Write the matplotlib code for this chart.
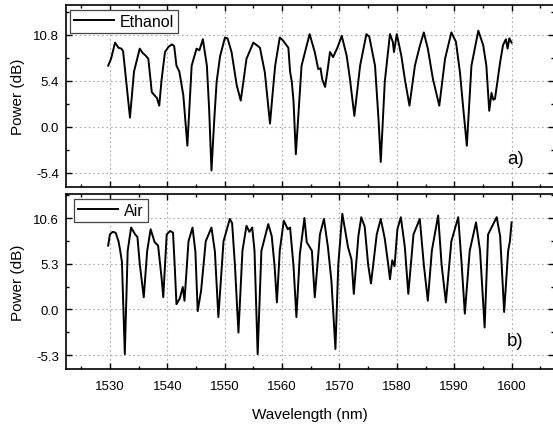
import matplotlib
matplotlib.use("Agg")
import matplotlib.pyplot as plt
from matplotlib.ticker import MultipleLocator, FixedLocator

plt.rcParams['font.family'] = ['Liberation Sans', 'DejaVu Sans']

# Ethanol spectrum (wavelength nm, power dB)
eth_wl = [1529.7, 1530.2, 1530.9, 1531.5, 1532.0, 1532.3, 1532.9, 1533.5, 1534.2, 1535.2,
          1535.7, 1536.2, 1536.7, 1537.3, 1537.8, 1538.2, 1538.6, 1539.0, 1539.6, 1540.2,
          1540.8, 1541.2, 1541.6, 1542.1, 1542.8, 1543.5, 1544.25, 1545.1, 1545.6, 1546.2,
          1546.9, 1547.3, 1547.7, 1548.2, 1548.6, 1549.2, 1550.05, 1550.5, 1551.2, 1552.1,
          1552.8, 1553.3, 1553.8, 1555.0, 1555.6, 1556.15, 1557.0, 1557.9, 1558.3, 1558.8,
          1559.6, 1560.1, 1561.1, 1561.4, 1561.7, 1562.0, 1562.4, 1563.4, 1564.8, 1565.7,
          1566.3, 1566.7, 1567.0, 1567.5, 1568.0, 1568.35, 1568.9, 1569.7, 1570.4, 1571.25,
          1571.8, 1572.6, 1573.6, 1574.7, 1575.2, 1576.2, 1576.8, 1577.2, 1577.9, 1578.8,
          1579.3, 1579.5, 1580.0, 1580.8, 1581.4, 1582.2, 1583.15, 1584.0, 1584.7, 1585.4,
          1586.3, 1587.4, 1588.4, 1589.5, 1590.3, 1591.0, 1591.6, 1592.2, 1593.0, 1594.2,
          1595.05, 1595.6, 1596.1, 1596.5, 1596.8, 1597.1, 1598.0, 1598.5, 1599.0, 1599.3,
          1599.6, 1600.0]
eth_pw = [7.2, 8.0, 9.9, 9.3, 9.2, 8.9, 5.0, 1.1, 6.5, 9.2,
          8.7, 8.4, 8.0, 4.1, 3.7, 3.4, 2.5, 5.5, 8.8, 9.4,
          9.7, 9.5, 7.2, 6.5, 3.7, -2.2, 7.2, 9.2, 9.0, 10.3,
          7.2, 2.0, -5.1, 1.0, 5.3, 8.3, 10.5, 10.4, 8.8, 4.9,
          3.1, 5.5, 8.0, 9.9, 9.6, 9.3, 6.4, 0.4, 3.5, 7.2,
          10.5, 10.2, 9.3, 6.5, 5.3, 3.0, -3.2, 7.2, 10.9, 8.8,
          6.8, 6.9, 5.6, 4.7, 7.0, 8.8, 8.2, 9.4, 10.7, 8.4,
          5.8, 1.3, 7.2, 10.9, 10.6, 7.2, 1.0, -4.1, 5.3, 10.9,
          10.0, 8.8, 10.9, 8.3, 5.6, 2.5, 7.2, 9.5, 11.1, 9.2,
          5.6, 2.5, 8.0, 11.1, 10.0, 6.4, 2.0, -2.2, 7.2, 11.3,
          9.6, 7.2, 1.9, 4.0, 3.2, 3.3, 7.6, 9.6, 10.3, 9.2,
          10.4, 9.9]

# Air spectrum (wavelength nm, power dB)
air_wl = [1529.7, 1530.0, 1530.5, 1531.0, 1531.5, 1531.8, 1532.1, 1532.6, 1533.1, 1533.7,
          1534.4, 1534.8, 1535.2, 1535.9, 1536.5, 1537.1, 1537.8, 1538.4, 1539.0, 1539.3,
          1539.9, 1540.5, 1541.0, 1541.3, 1541.6, 1542.2, 1542.7, 1543.0, 1543.7, 1544.4,
          1544.9, 1545.3, 1545.9, 1546.7, 1547.7, 1548.3, 1548.9, 1549.8, 1550.9, 1551.3,
          1551.8, 1552.4, 1553.1, 1553.8, 1554.3, 1554.8, 1555.2, 1555.75, 1556.4, 1557.6,
          1558.2, 1558.7, 1559.1, 1559.6, 1560.3, 1561.0, 1561.4, 1562.0, 1562.5, 1563.1,
          1563.9, 1564.3, 1565.2, 1565.7, 1566.6, 1567.3, 1568.0, 1568.6, 1569.3, 1569.8,
          1570.5, 1571.5, 1572.1, 1572.5, 1573.3, 1573.8, 1574.4, 1575.0, 1575.5, 1576.5,
          1577.2, 1577.9, 1578.5, 1578.8, 1579.2, 1579.6, 1580.1, 1580.7, 1581.4, 1582.0,
          1582.9, 1584.0, 1584.7, 1585.4, 1586.1, 1587.2, 1587.8, 1588.55, 1589.5, 1590.7,
          1591.3, 1591.85, 1592.7, 1593.8, 1594.5, 1595.3, 1595.9, 1597.4, 1598.0, 1598.7,
          1599.4, 1599.7, 1600.0]
air_pw = [7.4, 8.7, 9.0, 8.9, 7.9, 6.8, 5.5, -5.2, 6.8, 9.5,
          8.7, 8.4, 5.3, 1.4, 6.8, 9.3, 7.8, 7.4, 3.7, 1.4,
          8.7, 9.1, 8.9, 5.0, 0.6, 1.3, 2.6, 1.0, 7.9, 9.5,
          6.7, -0.2, 2.2, 7.9, 9.5, 6.7, -0.9, 7.9, 10.5, 10.0,
          5.0, -2.7, 6.8, 9.7, 9.0, 9.5, 6.8, -5.2, 6.8, 9.9,
          8.5, 5.0, 0.8, 6.8, 10.3, 9.3, 9.5, 5.0, -0.9, 6.4,
          10.6, 7.8, 6.8, 1.4, 8.7, 10.5, 7.2, 3.3, -4.6, 5.2,
          11.1, 7.2, 5.8, 1.8, 8.5, 10.7, 9.6, 5.2, 3.0, 8.7,
          10.5, 8.2, 5.2, 3.5, 5.7, 5.0, 9.3, 10.7, 7.2, 1.8,
          8.7, 10.5, 5.2, 1.0, 6.8, 10.9, 5.2, 0.8, 7.9, 10.7,
          5.2, -0.5, 6.8, 10.1, 6.8, -2.1, 8.7, 10.7, 8.5, -0.3,
          6.8, 7.9, 10.1]

x_ticks = [1530, 1540, 1550, 1560, 1570, 1580, 1590, 1600]
top_yticks = [-5.4, 0.0, 5.4, 10.8]
bot_yticks = [-5.3, 0.0, 5.3, 10.6]

W, H = 553, 427
fig = plt.figure(figsize=(W / 100, H / 100), dpi=100)

def px_axes(x0, y0, x1, y1):
    return fig.add_axes([x0 / W, 1 - y1 / H, (x1 - x0) / W, (y1 - y0) / H])

ax1 = px_axes(65.7, 6, 553.5, 188.3)
ax2 = px_axes(65.7, 195, 553.5, 370)

def style(ax, yticks, ylim, tag, leg_x):
    ax.set_xlim(1522.3, 1607.3)
    ax.set_ylim(*ylim)
    ax.xaxis.set_major_locator(FixedLocator(x_ticks))
    ax.xaxis.set_minor_locator(MultipleLocator(5))
    ax.yaxis.set_major_locator(FixedLocator(yticks))
    step = yticks[1] - yticks[0]
    ax.yaxis.set_minor_locator(MultipleLocator(step / 2))
    ax.tick_params(which='both', direction='in', top=True, right=True,
                   labelsize=9.5, width=1.0, colors='black')
    ax.tick_params(which='major', length=4)
    ax.tick_params(which='minor', length=2.2)
    ax.tick_params(axis='y', pad=5)
    ax.tick_params(axis='x', pad=8)
    ax.set_yticklabels([f"{v:.1f}" for v in yticks])
    ax.grid(True, which='major', linestyle=(0, (1.5, 2.5)), color='#aaaaaa', linewidth=0.8)
    for s in ax.spines.values():
        s.set_linewidth(1.2)
    ax.set_ylabel('Power (dB)', fontsize=11, labelpad=6)
    ax.text(0.905, 0.16, tag, transform=ax.transAxes, fontsize=13.5, ha='left', va='center')
    leg = ax.legend(loc='upper left', bbox_to_anchor=(leg_x, 1.0), fontsize=11.5, frameon=True,
                    fancybox=False, handlelength=2.5, handletextpad=0.35, borderpad=0.25,
                    borderaxespad=0.3, framealpha=1)
    leg.get_frame().set_edgecolor('#444444')
    leg.get_frame().set_linewidth(0.9)

ax1.plot(eth_wl, eth_pw, color='black', lw=1.4, label='Ethanol')
ax2.plot(air_wl, air_pw, color='black', lw=1.4, label='Air')
style(ax1, top_yticks, (-7.08, 14.32), 'a)', 0.0)
style(ax2, bot_yticks, (-6.92, 13.39), 'b)', 0.008)
ax1.tick_params(axis='x', labelbottom=False)
ax2.set_xlabel('Wavelength (nm)', fontsize=11, labelpad=11)

fig.savefig('out.png', dpi=100)
